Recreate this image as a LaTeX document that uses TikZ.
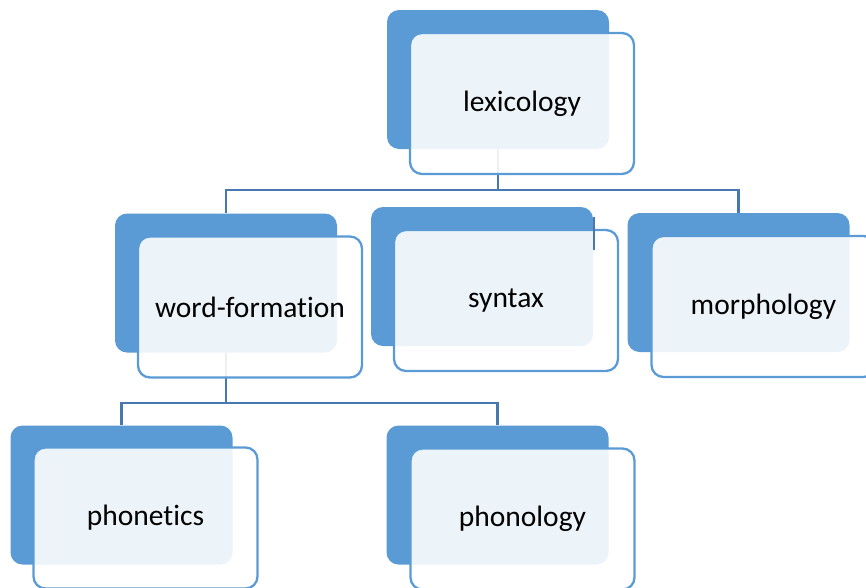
\documentclass[tikz,border=0pt]{standalone}
\usepackage{fontspec}
\setmainfont{Carlito}[Ligatures={NoCommon,NoRare,NoContextual}]
\usetikzlibrary{calc}
\pgfdeclarelayer{background}
\pgfsetlayers{background,main}
\definecolor{boxblue}{RGB}{91,155,213}
\definecolor{linkblue}{RGB}{71,120,176}
\tikzstyle{back} = [fill=boxblue, rectangle, rounded corners=12pt,
minimum width=222pt, minimum height=139pt, inner sep=0pt]
\tikzstyle{front} = [draw=boxblue, line width=2.3pt, fill=white, fill opacity=0.89,
text opacity=1, rectangle, rounded corners=12pt, minimum width=224pt,
minimum height=141pt, font=\fontsize{29.5}{35}\selectfont]
\tikzstyle{link} = [draw=linkblue, line width=2.4pt]
\begin{document}
\begin{tikzpicture}[x=1pt,y=-1pt]
\useasboundingbox (0,0) rectangle (866,587);

\node [back] (lexB) at (498,79.5) {};
\node [front] (lex) at ($(lexB)+(24,24)$) {lexicology};

\node [back] (wfB) at (226,283) {};
\node [front] (wf) at ($(wfB)+(24,24)$) {word-formation};
\node [back] (synB) at (482,276.5) {};
\node [front] (syn) at ($(synB)+(24,24)$) {syntax};
\node [back] (morB) at (738.5,282.5) {};
\node [front] (mor) at ($(morB)+(25,24)$) {morphology};

\node [back] (pheB) at (121.5,495) {};
\node [front] (phe) at ($(pheB)+(24,23)$) {phonetics};
\node [back] (phoB) at (497.5,495) {};
\node [front] (pho) at ($(phoB)+(25,24)$) {phonology};

\coordinate (busA) at (0,190);
\coordinate (busB) at (0,403);

\begin{pgfonlayer}{background}
\draw [link] (lexB.south) -- (lexB.south |- busA) -| (wfB.north);
\draw [link] (lexB.south |- busA) -| (morB.north);
\draw [link] (wfB.south) -- (wfB.south |- busB) -| (pheB.north);
\draw [link] (wfB.south |- busB) -| (phoB.north);
\end{pgfonlayer}

%\draw [link] (lexB.south |- busA) -| (synB.north);
\coordinate (synTick) at ($(synB.north east)+(1,10)$);
\draw [link] (synTick) -- ++(0,33);
\end{tikzpicture}
\end{document}
